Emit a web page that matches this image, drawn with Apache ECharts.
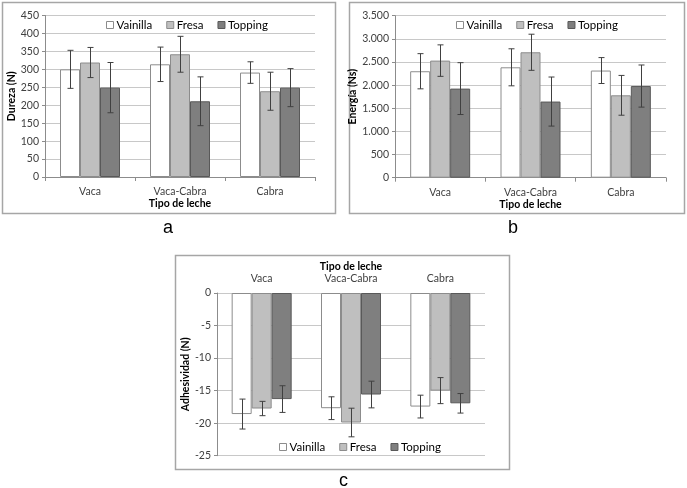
<!DOCTYPE html>
<html>
<head>
<meta charset="utf-8">
<script src="https://cdn.jsdelivr.net/npm/echarts@6/dist/echarts.min.js"></script>
<style>
html,body{margin:0;padding:0;background:#fff;}
#main{width:687px;height:488px;}
</style>
</head>
<body>
<div id="main"></div>
<script>
const categories = ['Vaca', 'Vaca-Cabra', 'Cabra'];
const seriesNames = ['Vainilla', 'Fresa', 'Topping'];

// Panel a: Dureza (N)
const durezaVainilla = [300, 314, 291];
const durezaVainillaErr = [53, 48, 30];
const durezaFresa = [319, 342, 239];
const durezaFresaErr = [42, 50, 53];
const durezaTopping = [249, 211, 249];
const durezaToppingErr = [70, 68, 53];

// Panel b: Energía (Ns)
const energiaVainilla = [2300, 2385, 2315];
const energiaVainillaErr = [380, 400, 280];
const energiaFresa = [2530, 2710, 1780];
const energiaFresaErr = [340, 390, 430];
const energiaTopping = [1925, 1645, 1980];
const energiaToppingErr = [560, 530, 455];

// Panel c: Adhesividad (N)
const adhesVainilla = [-18.6, -17.7, -17.45];
const adhesVainillaErr = [2.3, 1.75, 1.75];
const adhesFresa = [-17.75, -19.9, -15.0];
const adhesFresaErr = [1.1, 2.2, 2.0];
const adhesTopping = [-16.3, -15.6, -16.95];
const adhesToppingErr = [2.05, 2.05, 1.5];

const panelA = {vals: [durezaVainilla, durezaFresa, durezaTopping], errs: [durezaVainillaErr, durezaFresaErr, durezaToppingErr]};
const panelB = {vals: [energiaVainilla, energiaFresa, energiaTopping], errs: [energiaVainillaErr, energiaFresaErr, energiaToppingErr]};
const panelC = {vals: [adhesVainilla, adhesFresa, adhesTopping], errs: [adhesVainillaErr, adhesFresaErr, adhesToppingErr]};

const FONT = 'Lato';
const fills = ['#ffffff', '#bfbfbf', '#7f7f7f'];
const borders = ['#8c8c8c', '#8c8c8c', '#595959'];
const BAR_W = 20;

function thousands(v) {
  if (v >= 1000) return Math.floor(v / 1000) + '.' + String(v % 1000).padStart(3, '0');
  return String(v);
}

const series = [];
function addPanel(panel, gi) {
  for (let k = 0; k < 3; k++) {
    series.push({
      type: 'bar', name: seriesNames[k], xAxisIndex: gi, yAxisIndex: gi,
      data: panel.vals[k], barWidth: BAR_W, barGap: '0%',
      itemStyle: {color: fills[k], borderColor: borders[k], borderWidth: 1},
      emphasis: {disabled: true}, z: 2
    });
  }
  for (let k = 0; k < 3; k++) {
    const offset = (k - 1) * BAR_W;
    series.push({
      type: 'custom', name: 'err' + k, xAxisIndex: gi, yAxisIndex: gi, z: 5,
      data: panel.vals[k].map((v, i) => [i, v, panel.errs[k][i]]),
      renderItem: function (params, api) {
        const c = api.value(0), m = api.value(1), e = api.value(2);
        const hi = api.coord([c, m + e]);
        const lo = api.coord([c, m - e]);
        const x = Math.round(hi[0] + offset) + 0.5;
        const st = {stroke: '#404040', lineWidth: 1};
        return {type: 'group', children: [
          {type: 'line', shape: {x1: x, y1: hi[1], x2: x, y2: lo[1]}, style: st},
          {type: 'line', shape: {x1: x - 3, y1: hi[1], x2: x + 3, y2: hi[1]}, style: st},
          {type: 'line', shape: {x1: x - 3, y1: lo[1], x2: x + 3, y2: lo[1]}, style: st}
        ]};
      }
    });
  }
}
addPanel(panelA, 0);
addPanel(panelB, 1);
addPanel(panelC, 2);

const axisLabelStyle = {fontFamily: FONT, fontSize: 10.5, color: '#404040'};
const nameStyle = {fontFamily: FONT, fontSize: 10.5, fontWeight: 'bold', color: '#000'};

function xAxis(gi, pos) {
  return {
    type: 'category', gridIndex: gi, data: categories, position: pos,
    name: 'Tipo de leche', nameLocation: 'middle', nameGap: 21,
    nameTextStyle: nameStyle,
    axisLine: {show: pos !== 'top', lineStyle: {color: '#8c8c8c'}},
    axisTick: {show: pos !== 'top', length: 4, lineStyle: {color: '#8c8c8c'}},
    axisLabel: Object.assign({margin: 9}, axisLabelStyle)
  };
}
function yAxis(gi, min, max, interval, name, gap, fmt) {
  return {
    type: 'value', gridIndex: gi, min: min, max: max, interval: interval,
    name: name, nameLocation: 'middle', nameGap: gap, nameTextStyle: nameStyle,
    axisLine: {show: true, lineStyle: {color: '#8c8c8c'}},
    axisTick: {show: true, length: 3, lineStyle: {color: '#8c8c8c'}},
    splitLine: {show: true, lineStyle: {color: '#c8c8c8'}},
    axisLabel: Object.assign({margin: 6, formatter: fmt}, axisLabelStyle)
  };
}

const legendBase = {
  itemWidth: 7, itemHeight: 7, icon: 'rect', itemGap: 14,
  textStyle: {fontFamily: FONT, fontSize: 11.5, color: '#000', padding: [0, 0, 0, -2]},
  selectedMode: false, data: seriesNames.map((n, k) => ({name: n, itemStyle: {color: fills[k], borderColor: borders[k], borderWidth: 1}}))
};

const option = {
  animation: false,
  backgroundColor: '#fff',
  title: [
    {text: 'a', left: 158, top: 214, textStyle: {fontFamily: 'Liberation Sans', fontSize: 18, fontWeight: 'normal', color: '#000'}},
    {text: 'b', left: 503, top: 214, textStyle: {fontFamily: 'Liberation Sans', fontSize: 18, fontWeight: 'normal', color: '#000'}},
    {text: 'c', left: 334, top: 467, textStyle: {fontFamily: 'Liberation Sans', fontSize: 18, fontWeight: 'normal', color: '#000'}}
  ],
  graphic: [
    {type: 'rect', shape: {x: 2.5, y: 2.5, width: 333, height: 211}, style: {fill: 'none', stroke: '#a6a6a6', lineWidth: 1.5}, z: -1},
    {type: 'rect', shape: {x: 349.5, y: 2.5, width: 335, height: 211}, style: {fill: 'none', stroke: '#a6a6a6', lineWidth: 1.5}, z: -1},
    {type: 'rect', shape: {x: 175.5, y: 255.5, width: 334, height: 214}, style: {fill: 'none', stroke: '#a6a6a6', lineWidth: 1.5}, z: -1}
  ],
  legend: [
    Object.assign({left: 101, top: 14}, legendBase),
    Object.assign({left: 451, top: 14}, legendBase),
    Object.assign({left: 274, top: 436}, legendBase)
  ],
  grid: [
    {left: 45, top: 15.5, width: 270, height: 161.5},
    {left: 395, top: 15.7, width: 271, height: 162},
    {left: 217, top: 293, width: 268, height: 162.7}
  ],
  xAxis: [xAxis(0, 'bottom'), xAxis(1, 'bottom'), xAxis(2, 'top')],
  yAxis: [
    yAxis(0, 0, 450, 50, 'Dureza (N)', 23, null),
    yAxis(1, 0, 3500, 500, 'Energía (Ns)', 27, thousands),
    yAxis(2, -25, 0, 5, 'Adhesividad (N)', 20, null)
  ],
  series: series
};

const chart = echarts.init(document.getElementById('main'));
chart.setOption(option);
</script>
</body>
</html>
